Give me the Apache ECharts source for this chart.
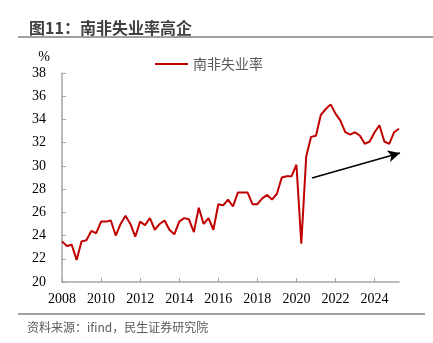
<!DOCTYPE html>
<html>
<head>
<meta charset="utf-8">
<script src="https://cdn.jsdelivr.net/npm/echarts@6/dist/echarts.min.js"></script>
<style>
html,body{margin:0;padding:0;background:#fff;}
#c{width:433px;height:343px;}
</style>
</head>
<body>
<div id="c"></div>
<script>
// Quarterly categories 2008Q1 .. 2025Q2
const quarters = [
"2008Q1","2008Q2","2008Q3","2008Q4","2009Q1","2009Q2","2009Q3","2009Q4",
"2010Q1","2010Q2","2010Q3","2010Q4","2011Q1","2011Q2","2011Q3","2011Q4",
"2012Q1","2012Q2","2012Q3","2012Q4","2013Q1","2013Q2","2013Q3","2013Q4",
"2014Q1","2014Q2","2014Q3","2014Q4","2015Q1","2015Q2","2015Q3","2015Q4",
"2016Q1","2016Q2","2016Q3","2016Q4","2017Q1","2017Q2","2017Q3","2017Q4",
"2018Q1","2018Q2","2018Q3","2018Q4","2019Q1","2019Q2","2019Q3","2019Q4",
"2020Q1","2020Q2","2020Q3","2020Q4","2021Q1","2021Q2","2021Q3","2021Q4",
"2022Q1","2022Q2","2022Q3","2022Q4","2023Q1","2023Q2","2023Q3","2023Q4",
"2024Q1","2024Q2","2024Q3","2024Q4","2025Q1","2025Q2"
];
// South Africa unemployment rate (%)
const unemployment = [
23.5,23.1,23.2,21.9,23.5,23.6,24.4,24.2,
25.2,25.2,25.3,24.0,25.0,25.7,25.0,23.9,
25.2,24.9,25.5,24.5,25.0,25.3,24.5,24.1,
25.2,25.5,25.4,24.3,26.4,25.0,25.5,24.5,
26.7,26.6,27.1,26.5,27.7,27.7,27.7,26.7,
26.7,27.2,27.5,27.1,27.6,29.0,29.1,29.1,
30.1,23.3,30.8,32.5,32.6,34.4,34.9,35.3,
34.5,33.9,32.9,32.7,32.9,32.6,31.9,32.1,
32.9,33.5,32.1,31.9,32.9,33.2
];
const seriesName = "南非失业率";
const titleText = "图11：南非失业率高企";
const sourceText = "资料来源：ifind，民生证券研究院";
const yMin = 20, yMax = 38, yStep = 2;

const serif = "Liberation Serif";
const cjk = "Noto Sans CJK SC";

const chart = echarts.init(document.getElementById('c'), null, {renderer:'canvas'});
chart.setOption({
  animation: false,
  backgroundColor: '#fff',
  title: {
    text: titleText,
    left: 24, top: 15,
    textStyle: {fontFamily: cjk, fontSize: 16, fontWeight: 'bold', color: '#404040'}
  },
  legend: {
    data: [{name: seriesName, icon: 'rect'}],
    left: 150, top: 52,
    itemWidth: 33, itemHeight: 2, itemGap: 5,
    textStyle: {fontFamily: cjk, fontSize: 14, color: '#595959'}
  },
  grid: {left: 62, right: 34, top: 73, bottom: 61, containLabel: false},
  xAxis: {
    type: 'category',
    data: quarters,
    boundaryGap: false,
    axisLine: {lineStyle: {color: '#a6a6a6', width: 1.5}},
    axisTick: {show: true, inside: true, length: 4, interval: 7, alignWithLabel: true, lineStyle: {color: '#a6a6a6'}},
    axisLabel: {
      interval: 7, margin: 10,
      fontFamily: serif, fontSize: 14, color: '#000',
      formatter: v => v.slice(0, 4)
    },
    splitLine: {show: false}
  },
  yAxis: {
    type: 'value',
    min: yMin, max: yMax, interval: yStep,
    name: '%',
    nameLocation: 'end',
    nameGap: 9,
    nameTextStyle: {fontFamily: serif, fontSize: 14, color: '#000', padding: [0, 36, 0, 0]},
    axisLine: {show: true, lineStyle: {color: '#a6a6a6', width: 1.5}},
    axisTick: {show: true, inside: true, length: 4, lineStyle: {color: '#a6a6a6'}},
    axisLabel: {fontFamily: serif, fontSize: 14, color: '#000', margin: 16},
    splitLine: {show: false}
  },
  series: [{
    name: seriesName,
    type: 'line',
    data: unemployment,
    symbol: 'none',
    lineStyle: {color: '#C00000', width: 2},
    itemStyle: {color: '#C00000'},
    markLine: {
      silent: true,
      symbol: ['none', 'arrow'],
      symbolSize: [9, 12],
      label: {show: false},
      lineStyle: {color: '#000', width: 1.5, type: 'solid'},
      data: [[{x: 312, y: 178}, {x: 400, y: 153}]]
    }
  }],
  graphic: [
    {type: 'line', shape: {x1: 18, y1: 37, x2: 433, y2: 37}, style: {stroke: '#7f7f7f', lineWidth: 1.5}},
    {type: 'line', shape: {x1: 18, y1: 314, x2: 425, y2: 314}, style: {stroke: '#7f7f7f', lineWidth: 1.5}},
    {type: 'text', left: 27, top: 321, style: {text: sourceText, fontFamily: cjk, fontSize: 12, fill: '#595959'}}
  ]
});
</script>
</body>
</html>
